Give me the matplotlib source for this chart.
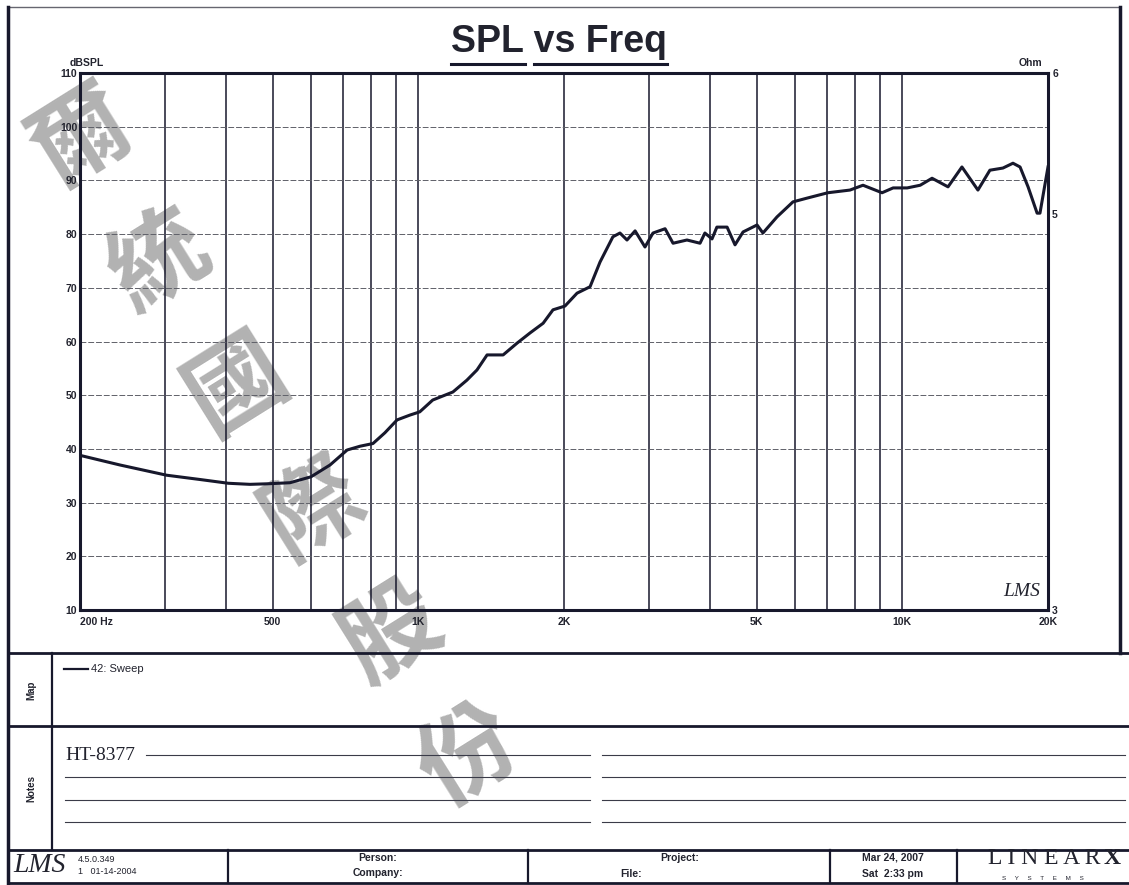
import numpy as np
import matplotlib
matplotlib.use("Agg")
import matplotlib.pyplot as plt
from matplotlib.lines import Line2D
from matplotlib.ticker import FixedLocator, NullLocator

# SPL sweep
freq = [200, 242, 302, 354, 405, 449, 487, 543, 600, 657,
        713, 758, 806, 853, 904, 961, 1007, 1071, 1179, 1260,
        1322, 1387, 1497, 1600, 1702, 1811, 1898, 2009, 2128, 2264,
        2374, 2524, 2610, 2699, 2805, 2940, 3054, 3235, 3360, 3590,
        3820, 3910, 4044, 4139, 4345, 4512, 4688, 5011, 5153, 5509,
        5944, 6356, 7017, 7795, 8295, 9081, 9573, 10235, 10890, 11520,
        12430, 13280, 14330, 15170, 16140, 16930, 17510, 18190, 18990, 19250,
        20000]
spl = [38.8, 37.0, 35.1, 34.3, 33.6, 33.4, 33.5, 33.7, 34.8, 37.0,
       39.8, 40.5, 41.0, 43.0, 45.4, 46.3, 46.9, 49.1, 50.6, 52.8,
       54.7, 57.5, 57.5, 59.7, 61.6, 63.4, 65.9, 66.6, 69.0, 70.2,
       74.8, 79.5, 80.2, 78.9, 80.6, 77.6, 80.2, 81.0, 78.3, 78.9,
       78.3, 80.2, 79.1, 81.3, 81.3, 78.0, 80.4, 81.7, 80.2, 83.2,
       86.0, 86.7, 87.7, 88.2, 89.1, 87.7, 88.6, 88.6, 89.1, 90.4,
       88.8, 92.5, 88.2, 91.9, 92.3, 93.2, 92.5, 88.8, 83.9, 83.9,
       92.5]

db_ticks = [10, 20, 30, 40, 50, 60, 70, 80, 90, 100, 110]
grid_freqs = [300, 400, 500, 600, 700, 800, 900, 1000, 2000, 3000,
              4000, 5000, 6000, 7000, 8000, 9000, 10000]
freq_ticks = [200, 500, 1000, 2000, 5000, 10000, 20000]
freq_labels = ["200 Hz", "500", "1K", "2K", "5K", "10K", "20K"]
ohm_ticks = [3, 5, 6]
watermark = "爾統國際股份"

W, H = 1129, 885
INK = "#17182c"
TXT = "#22232e"
SANS = ["Liberation Sans", "DejaVu Sans"]
SERIF = ["Liberation Serif", "DejaVu Serif"]

plt.rcParams["font.family"] = SANS

fig = plt.figure(figsize=(W / 100, H / 100), dpi=100)
fig.patch.set_facecolor("white")


def fx(x):
    return x / W


def fy(y):
    return 1 - y / H


def hline(y, x0, x1, lw=1.0, color=INK):
    fig.add_artist(Line2D([fx(x0), fx(x1)], [fy(y), fy(y)], lw=lw, color=color,
                          transform=fig.transFigure))


def vline(x, y0, y1, lw=1.0, color=INK):
    fig.add_artist(Line2D([fx(x), fx(x)], [fy(y0), fy(y1)], lw=lw, color=color,
                          transform=fig.transFigure))


def ftext(x, y, s, **kw):
    kw.setdefault("color", TXT)
    fig.text(fx(x), fy(y), s, transform=fig.transFigure, **kw)


# ---- watermark (behind everything) ----
ang = np.deg2rad(-58)
for i, ch in enumerate(watermark):
    cx = 82 + i * 146 * np.cos(ang)
    cy = 138 - i * 146 * np.sin(ang)
    fig.text(fx(cx), fy(cy), ch, fontsize=70, rotation=32, ha="center", va="center",
             color="#b2b2b2", fontweight="bold",
             family=["Noto Sans CJK TC", "DejaVu Sans"], zorder=-1)

# ---- main plot ----
x0, x1, y0, y1 = 80, 1048, 73, 610
ax = fig.add_axes([fx(x0), fy(y1), fx(x1) - fx(x0), fy(y0) - fy(y1)])
ax.set_facecolor("none")
ax.set_xscale("log")
ax.set_xlim(200, 20000)
ax.set_ylim(10, 110)

for f in grid_freqs:
    ax.axvline(f, color=INK, lw=1.1, zorder=1)
for d in db_ticks[1:-1]:
    ax.axhline(d, color="#606169", lw=0.7, ls=(0, (6, 2)), zorder=1)

ax.plot(freq, spl, color=INK, lw=2.2, solid_joinstyle="round", zorder=3)

for s in ax.spines.values():
    s.set_color(INK)
    s.set_linewidth(2.2)

ax.xaxis.set_major_locator(FixedLocator(freq_ticks))
ax.xaxis.set_minor_locator(NullLocator())
ax.set_xticklabels(freq_labels)
ax.set_yticks(db_ticks)
ax.tick_params(axis="both", length=0, labelsize=7.5, labelcolor=TXT)
ax.tick_params(axis="x", pad=5)
ax.tick_params(axis="y", pad=2)
for lab in ax.get_xticklabels() + ax.get_yticklabels():
    lab.set_fontweight("bold")
ax.get_xticklabels()[0].set_horizontalalignment("left")

ax2 = ax.twinx()
ax2.set_yscale("log")
ax2.set_ylim(3, 6)
ax2.yaxis.set_major_locator(FixedLocator(ohm_ticks))
ax2.yaxis.set_minor_locator(NullLocator())
ax2.set_yticklabels([str(t) for t in ohm_ticks])
ax2.tick_params(axis="y", length=0, labelsize=7.5, labelcolor=TXT, pad=3)
for lab in ax2.get_yticklabels():
    lab.set_fontweight("bold")
for s in ax2.spines.values():
    s.set_visible(False)

ftext(70, 63, "dBSPL", fontsize=7.5, fontweight="bold", va="center")
ftext(1042, 63, "Ohm", fontsize=7.5, fontweight="bold", va="center", ha="right")
ftext(1022, 592, "LMS", fontsize=14, style="italic", family=SERIF, va="center",
      ha="center", fontweight="light")

# ---- title ----
title = fig.text(fx(559), fy(42), "SPL vs Freq", fontsize=27, fontweight="bold",
                 ha="center", va="center", color=TXT)
fig.canvas.draw()
r = fig.canvas.get_renderer()
bb = title.get_window_extent(r)
probe = fig.text(0, 0, "SPL ", fontsize=27, fontweight="bold")
pw = probe.get_window_extent(r).width
probe.remove()
uy = H - bb.y0 + 4
hline(uy, bb.x0, bb.x0 + pw - 9, lw=2.2)
hline(uy, bb.x0 + pw, bb.x1, lw=2.2)

# ---- page border ----
hline(7, 8, 1120, lw=1.0, color="#666670")
vline(8, 7, 884, lw=2.5)
vline(1120, 7, 653, lw=2.5)

# ---- map / notes / footer table ----
for y in (653, 726, 850):
    hline(y, 8, 1129, lw=2.0)
hline(883, 8, 1129, lw=2.0)
vline(52, 653, 850, lw=1.6)
for x in (228, 528, 830, 957):
    vline(x, 850, 883, lw=1.6)

ftext(31, 690, "Map", fontsize=7, fontweight="bold", rotation=90, ha="center", va="center")
ftext(31, 788, "Notes", fontsize=7, fontweight="bold", rotation=90, ha="center", va="center")
hline(669, 64, 88, lw=1.6)
ftext(91, 669, "42: Sweep", fontsize=8, va="center")

ftext(65, 755, "HT-8377", fontsize=14, family=SERIF, va="center")
for y, start in ((755, 146), (777, 65), (800, 65), (822, 65)):
    hline(y, start, 590, lw=0.8, color="#3a3b48")
    hline(y, 602, 1125, lw=0.8, color="#3a3b48")

ftext(40, 866, "LMS", fontsize=20, style="italic", family=SERIF, ha="center",
      va="center", fontweight="light")
ftext(78, 859, "4.5.0.349", fontsize=6.5, va="center")
ftext(78, 871, "1   01-14-2004", fontsize=6.5, va="center")
ftext(378, 858, "Person:", fontsize=7.5, fontweight="bold", ha="center", va="center")
ftext(378, 873, "Company:", fontsize=7.5, fontweight="bold", ha="center", va="center")
ftext(680, 858, "Project:", fontsize=7.5, fontweight="bold", ha="center", va="center")
ftext(620, 874, "File:", fontsize=7.5, fontweight="bold", va="center")
ftext(893, 858, "Mar 24, 2007", fontsize=7.5, fontweight="bold", ha="center", va="center")
ftext(893, 874, "Sat  2:33 pm", fontsize=7.5, fontweight="bold", ha="center", va="center")
ftext(1044, 858, "L I N E A R", fontsize=17, family=SERIF, ha="center", va="center")
ftext(1112, 858, "X", fontsize=17, family=SERIF, fontweight="bold", ha="center", va="center")
ftext(1043, 878, "S     Y     S     T     E     M     S", fontsize=4.5, ha="center",
      va="center")

fig.savefig("out.png", dpi=100, facecolor="white")
